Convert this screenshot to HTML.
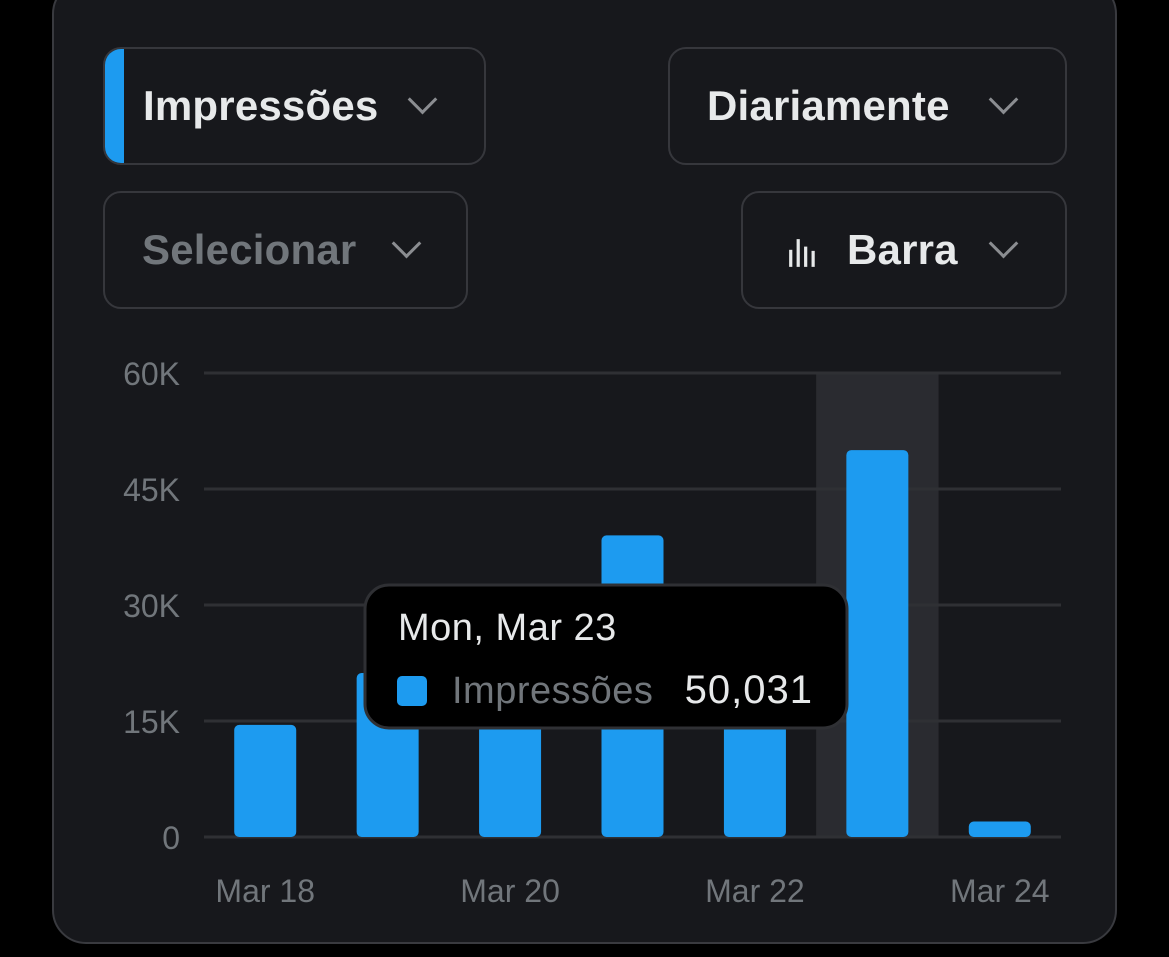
<!DOCTYPE html>
<html><head><meta charset="utf-8"><style>
html,body{margin:0;padding:0;background:#000;width:1169px;height:957px;overflow:hidden;font-family:"Liberation Sans",sans-serif}
.card{position:absolute;left:52px;top:-20px;width:1065px;height:964px;background:#17181c;border:2px solid #393a3f;border-radius:34px;box-sizing:border-box}
.dd{position:absolute;box-sizing:border-box;border:2px solid #36373c;border-radius:18px;background:#17181c;color:#e7e9ea;font-weight:bold;font-size:42px;letter-spacing:0.2px;display:flex;align-items:center;overflow:hidden}
.chev{position:absolute;width:18px;height:18px;border-right:3px solid #8b8d91;border-bottom:3px solid #8b8d91;transform:rotate(45deg)}
</style></head><body>
<div class="card"></div>
<div class="dd" style="left:103px;top:47px;width:383px;height:118px">
 <div style="position:absolute;left:0;top:0;width:19px;height:100%;background:#1d9bf0"></div>
 <span style="position:absolute;left:38px">Impressões</span>
 <div class="chev" style="left:307px;top:40px"></div>
</div>
<div class="dd" style="left:668px;top:47px;width:399px;height:118px">
 <span style="position:absolute;left:37px">Diariamente</span>
 <div class="chev" style="left:323px;top:40px"></div>
</div>
<div class="dd" style="left:103px;top:191px;width:365px;height:118px;color:#71767b">
 <span style="position:absolute;left:37px">Selecionar</span>
 <div class="chev" style="left:291px;top:40px"></div>
</div>
<div class="dd" style="left:741px;top:191px;width:326px;height:118px">
 <svg style="position:absolute;left:44px;top:44px" width="32" height="32" viewBox="0 0 30 30"><g fill="#e7e9ea"><rect x="2" y="12" width="3" height="16"/><rect x="9" y="2" width="3" height="26"/><rect x="16" y="9" width="3" height="19"/><rect x="23" y="13" width="3" height="15"/></g></svg>
 <span style="position:absolute;left:104px">Barra</span>
 <div class="chev" style="left:250px;top:40px"></div>
</div>
<svg id="chart" width="1169" height="957" style="position:absolute;left:0;top:0"></svg>
<script>
const categories=["Mar 18","Mar 19","Mar 20","Mar 21","Mar 22","Mar 23","Mar 24"];
const values=[14500,21200,26000,39000,30000,50031,2000];
const yTicks=[0,15000,30000,45000,60000];
const yTickLabels=["0","15K","30K","45K","60K"];
const xLabelIdx=[0,2,4,6];
const highlightIdx=5;
const NS="http://www.w3.org/2000/svg";
const svg=document.getElementById('chart');
const x0=204,x1=1061,y0=837,y1=373,yMax=60000;
const band=(x1-x0)/categories.length;
const xs=i=>x0+band*(i+0.5);
const ys=v=>y0-(v/yMax)*(y0-y1);
function mk(t,a){const e=document.createElementNS(NS,t);for(const k in a)e.setAttribute(k,a[k]);svg.appendChild(e);return e;}
let h=mk('rect',{x:xs(highlightIdx)-band/2,y:y1,width:band,height:y0-y1,fill:'#2a2b30'});


yTicks.forEach((t,i)=>{
 const l=mk('line',{x1:x0,x2:x1,y1:ys(t),y2:ys(t),stroke:'#2f3034','stroke-width':3});
 
 
 const tx=mk('text',{x:180,y:ys(t)+12,'text-anchor':'end','font-size':32,fill:'#71767b','font-family':'Liberation Sans, sans-serif'});
 tx.textContent=yTickLabels[i];
 
 
});
values.forEach((v,i)=>{
 const bw=62,top=ys(v);
 const b=mk('rect',{x:xs(i)-bw/2,y:top,width:bw,height:y0-top,rx:5,fill:'#1d9bf0'});
 
 
});
xLabelIdx.forEach(i=>{
 const t=mk('text',{x:xs(i),y:902,'text-anchor':'middle','font-size':32,fill:'#71767b','font-family':'Liberation Sans, sans-serif'});
 t.textContent=categories[i];
 
 
});
const tg=document.createElementNS(NS,'g');svg.appendChild(tg);


function tk(t,a){const e=document.createElementNS(NS,t);for(const k in a)e.setAttribute(k,a[k]);tg.appendChild(e);return e;}
tk('rect',{x:365,y:585,width:482,height:143,rx:24,fill:'#000',stroke:'#2f3034','stroke-width':3});
let d=tk('text',{x:398,y:640,'font-size':38,'letter-spacing':0.5,fill:'#e7e9ea','font-family':'Liberation Sans, sans-serif'});d.textContent="Mon, "+categories[highlightIdx];


let sw=tk('rect',{x:397,y:676,width:30,height:30,rx:5,fill:'#1d9bf0'});


let n=tk('text',{x:452,y:703,'font-size':38,'letter-spacing':0.5,fill:'#71767b','font-family':'Liberation Sans, sans-serif'});n.textContent="Impressões";


let vv=tk('text',{x:813,y:703,'text-anchor':'end','font-size':40,'letter-spacing':1,fill:'#e7e9ea','font-family':'Liberation Sans, sans-serif'});vv.textContent=values[highlightIdx].toLocaleString('en-US');


</script>
</body></html>
